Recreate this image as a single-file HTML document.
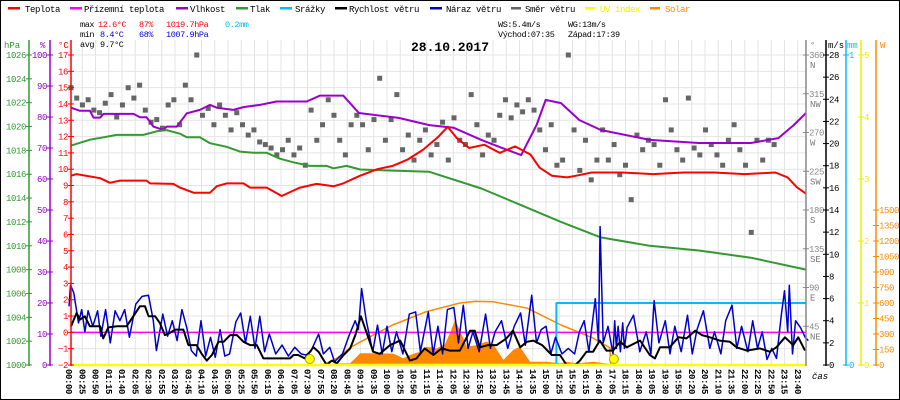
<!DOCTYPE html>
<html><head><meta charset="utf-8"><style>
html,body{margin:0;padding:0;background:#fff}
svg{display:block;font-family:"Liberation Mono",monospace;font-size:9px}
</style></head><body>
<svg id="c" width="900" height="400" viewBox="0 0 900 400" xmlns="http://www.w3.org/2000/svg">
<rect x="0.5" y="0.5" width="899" height="399" fill="#fff" stroke="#000"/>
<g id="grid"></g>
<g id="series"></g>
<g id="axes"></g>
<g font-size="9" letter-spacing="-0.4">
<g><rect x="8" y="7" width="12" height="2.5" fill="#f00"/><text x="25" y="12">Teplota</text></g>
<g><rect x="70" y="7" width="12" height="2.5" fill="#f0f"/><text x="84" y="12">Přízemní teplota</text></g>
<g><rect x="176" y="7" width="12" height="2.5" fill="#90c"/><text x="190" y="12">Vlhkost</text></g>
<g><rect x="236" y="7" width="12" height="2.5" fill="#393"/><text x="250" y="12">Tlak</text></g>
<g><rect x="280" y="7" width="12" height="2.5" fill="#0bf"/><text x="295" y="12">Srážky</text></g>
<g><rect x="335" y="7" width="12" height="2.5" fill="#000"/><text x="349" y="12">Rychlost větru</text></g>
<g><rect x="430" y="7" width="12" height="2.5" fill="#00c"/><text x="446" y="12">Náraz větru</text></g>
<g><rect x="511" y="7" width="10" height="2.5" fill="#666"/><text x="525" y="12">Směr větru</text></g>
<g><rect x="585" y="7" width="10" height="2.5" fill="#ff0"/><text x="600" y="12" fill="#ee0">UV index</text></g>
<g><rect x="650" y="7" width="10" height="2.5" fill="#f80"/><text x="665" y="12" fill="#f80">Solar</text></g>
</g>
<g font-size="8.5" letter-spacing="-0.4">
<text x="80" y="27">max</text><text x="98" y="27" fill="#f00">12.6°C</text><text x="139" y="27" fill="#f00">87%</text><text x="166" y="27" fill="#f00">1019.7hPa</text><text x="225" y="27" fill="#0bf">0.2mm</text>
<text x="80" y="37">min</text><text x="100" y="37" fill="#00c">8.4°C</text><text x="139" y="37" fill="#00c">68%</text><text x="166" y="37" fill="#00c">1007.9hPa</text>
<text x="80" y="47">avg</text><text x="100" y="47">9.7°C</text>
<text x="498" y="27">WS:5.4m/s</text><text x="568" y="27">WG:13m/s</text>
<text x="498" y="37">Východ:07:35</text><text x="568" y="37">Západ:17:39</text>
</g>
<text x="450" y="51" text-anchor="middle" font-size="13" font-weight="bold">28.10.2017</text>
<text x="812" y="379" font-size="9" font-style="italic">čas</text>
</svg>
<script>
const NS="http://www.w3.org/2000/svg";
// ---- data ----
const tempH=[0,0.18,0.95,1.27,1.6,2.47,2.58,3.34,3.56,4.0,4.54,4.76,5.08,5.63,5.85,6.39,6.88,7.15,7.48,8.02,8.57,8.89,9.44,10.0,10.5,11.0,11.5,12.0,12.3,12.6,13.0,13.5,14.0,14.5,15.0,15.3,15.7,16.2,16.5,17.0,18.0,19.0,20.0,21.0,22.0,23.0,23.4,23.7,24];
const tempC=[9.6,9.7,9.45,9.17,9.3,9.3,9.13,9.1,8.87,8.56,8.56,8.96,9.13,9.13,8.87,8.87,8.36,8.6,8.87,9.1,8.95,9.13,9.6,10.0,10.2,10.6,11.2,12.0,12.6,11.9,11.3,11.5,11.0,11.4,10.9,10.1,9.6,9.5,9.6,9.8,9.8,9.7,9.8,9.8,9.7,9.8,9.5,8.9,8.5];
const humH=[0,0.29,0.62,0.73,0.95,1.06,2.04,2.25,2.47,2.69,3.02,3.12,3.45,3.78,4.21,4.54,4.76,5.3,5.63,6.17,6.71,7.7,8.13,8.89,9.4,10.7,11.7,12.5,13.4,14.0,14.7,15.2,15.5,16.0,16.6,17.3,18.9,20.5,22.2,23.1,23.6,24];
const humP=[83,82,82,79.8,79.8,81,81,79.9,79.9,76.9,75.8,76.9,76.9,81.2,82.3,83.9,83,82.3,83.2,83.9,85,85,86.9,86.9,81.3,79.7,77.4,76.5,72.6,70.3,67.7,77.4,85.5,84.5,79,75.8,72.6,71.6,71.6,73.2,77.4,81.3];
const presH=[0,0.62,1.06,1.49,2.36,2.8,3.12,3.56,3.78,4.21,4.54,5.08,5.52,5.95,6.39,6.82,7.26,7.8,8.35,8.57,9.0,9.44,11.7,13.4,14.7,16.0,17.3,18.9,20.5,22.2,24];
const presV=[1018.4,1018.9,1019.1,1019.3,1019.3,1019.6,1019.7,1019.4,1019.1,1019.1,1018.6,1018.3,1017.9,1017.8,1017.8,1017.3,1017.0,1016.7,1016.7,1016.5,1016.7,1016.4,1016.2,1014.8,1013.4,1012.0,1010.7,1010.0,1009.6,1009.0,1008.0];
const rainH=[0,15.85,15.85,24];
const rainMM=[0,0,0.2,0.2];
const groundH=[0,24];
const groundC=[0,0];
const windM=[0,11,17.6,27,37,57,63,73,90,109,122,135,145,152,165,174,184,194,204,220,230,246,256,266,276,289,299,312,325,338,351,364,377,397,429,436,445,458,475,485,501,511,521,534,547,557,568,592,605,625,645,664,677,693,710,726,742,762,782,791,801,817,834,853,866,880,893,906,923,942,958,971,988,997,1010,1023,1036,1049,1062,1076,1089,1115,1134,1144,1154,1173,1190,1206,1223,1236,1252,1271,1291,1304,1324,1350,1369,1382,1399,1415,1425,1438];
const windV=[3.5,4.7,4.1,4.4,3.5,3.5,2.4,3.4,3.5,3.5,4.4,5.3,5.3,4.4,4.4,3.8,2.7,2.9,3.2,3.2,1.8,1.8,1.0,0.4,0.9,2.1,2.1,2.7,2.7,2.1,1.8,1.8,0.6,0.6,0.6,0.9,0.9,0.6,1.6,1.2,0,0.4,0.15,0.9,1.5,2.7,4.4,1.2,1.0,1.8,2.2,0.4,0.6,1.5,0.9,1.5,1.3,1.3,3.1,3.1,1.6,1.8,1.8,2.4,3.1,1.6,2.1,2.2,1.8,0.9,0.9,0,0,0.4,1.2,1.2,2.2,1.3,1.3,2.1,1.6,2.2,0.9,0.6,1.6,1.6,2.5,2.4,3.1,2.7,2.5,2.2,2.1,1.6,1.3,1.5,1.2,1.6,2.5,1.8,2.5,1.3];
const gustH=[0,0.05,0.15,0.3,0.4,0.5,0.6,0.75,0.9,1.0,1.15,1.3,1.45,1.6,1.75,1.9,2.1,2.3,2.5,2.65,2.75,2.95,3.1,3.25,3.4,3.55,3.7,3.85,4.0,4.15,4.3,4.45,4.6,4.75,4.9,5.05,5.25,5.4,5.55,5.7,5.85,6.0,6.15,6.3,6.5,6.7,6.9,7.1,7.3,7.45,7.6,7.85,8.0,8.2,8.35,8.6,8.8,9.0,9.1,9.2,9.35,9.55,9.7,9.85,10.0,10.15,10.3,10.5,10.7,10.9,11.05,11.3,11.45,11.6,11.75,11.9,12.1,12.25,12.4,12.55,12.7,12.9,13.1,13.25,13.4,13.6,13.8,14.0,14.2,14.35,14.55,14.7,14.85,15.0,15.15,15.3,15.5,15.7,15.9,16.05,16.2,16.35,16.55,16.65,16.7,16.8,16.95,17.15,17.3,17.45,17.6,17.8,18.0,18.15,18.3,18.5,18.7,18.9,19.05,19.15,19.3,19.5,19.65,19.8,20.0,20.2,20.35,20.5,20.7,20.9,21.05,21.25,21.4,21.6,21.75,21.9,22.1,22.25,22.4,22.55,22.7,22.85,23.0,23.15,23.25,23.35,23.4,23.5,23.6,23.75,23.9,24];
const gustV=[5.3,7.2,6.5,3.8,5.0,3.0,4.9,3.5,4.9,2.6,5.0,2.0,4.9,4.0,5.0,2.5,5.5,6.2,6.3,4.0,1.3,4.6,2.6,4.0,2.2,5.0,3.4,1.3,0.8,4.0,0.8,2.5,0.7,3.2,0.8,1.0,3.9,4.7,2.0,4.4,1.5,4.4,1.2,2.8,1.0,1.8,0.8,1.6,1.0,0.9,1.2,2.8,1.0,1.6,0.3,1.0,2.6,4.0,3.2,6.9,4.0,1.2,3.6,1.0,3.5,1.2,3.0,1.0,4.6,4.8,1.2,4.8,1.0,3.5,1.0,5.0,5.2,2.0,5.4,1.5,3.0,1.2,4.6,1.5,3.0,4.0,1.5,3.5,4.7,1.8,6.3,2.0,3.2,3.5,1.0,2.5,1.0,1.5,1.0,3.0,4.0,1.2,6.0,2.0,12.5,2.0,3.5,1.0,4.0,1.5,3.5,1.2,3.8,1.5,3.4,4.5,1.2,3.0,1.0,5.8,2.0,4.0,1.0,3.5,1.2,4.5,1.0,3.2,4.9,1.5,3.0,1.0,4.0,5.4,1.5,3.5,1.2,4.0,1.5,3.0,0.5,1.5,0.6,4.5,6.7,3.0,7.2,1.0,4.0,3.4,2.5,2.2];
const dirStepMin=11.2;
const dirDeg=[322,310,302,308,296,293,304,314,288,302,322,310,325,296,282,285,275,302,308,279,325,308,360,290,298,279,302,290,273,293,279,267,273,259,256,252,244,250,261,244,252,232,296,261,279,308,290,261,244,279,290,279,250,285,333,261,285,314,250,267,238,261,273,244,256,282,238,287,261,256,314,279,244,267,261,290,308,287,302,294,308,296,273,250,279,232,238,360,273,226,261,215,238,273,238,256,221,232,192,267,250,261,256,232,308,273,250,238,310,252,244,273,256,244,232,261,279,250,232,154,261,238,261,256];
const solarH=[7.6,8.24,8.68,9.11,9.33,9.44,10.0,10.53,10.85,11.07,11.4,11.61,11.94,12.21,12.37,12.54,12.7,12.92,13.25,13.57,13.79,14.12,14.44,14.66,14.99,15.53,15.97,16.19,16.52,17.06,17.6,17.65];
const solarW=[0,0,16,16,80,113,113,110,64,97,130,177,161,200,306,435,339,177,193,226,200,48,145,177,32,32,16,32,16,32,10,0];
const theoH=[7.6,8.2,8.7,9.1,9.45,10.5,11.6,12.7,13.2,13.8,14.9,16.0,17.05,17.6,17.62];
const theoW=[0,0,68,165,225,387,516,600,615,612,550,387,260,165,0];
const sunEvents=[7.8,17.73];
const timeLabels=["00:00","00:25","00:50","01:15","01:40","02:05","02:30","02:55","03:20","03:45","04:10","04:35","05:00","05:25","05:50","06:15","06:40","07:05","07:30","07:55","08:20","08:45","09:10","09:35","10:00","10:25","10:50","11:15","11:40","12:05","12:30","12:55","13:20","13:45","14:10","14:35","15:00","15:25","15:50","16:15","16:40","17:05","18:15","18:40","19:05","19:30","19:55","20:20","20:45","21:10","21:35","22:00","22:25","22:50","23:15","23:40"];
const hpaTicks=[1000,1002,1004,1006,1008,1010,1012,1014,1016,1018,1020,1022,1024,1026];
const humTicks=[0,10,20,30,40,50,60,70,80,90,100];
const tempTicks=[-2,-1,0,1,2,3,4,5,6,7,8,9,10,11,12,13,14,15,16,17];
const dirTicks=[45,90,135,180,225,270,315,360];
const dirNames=["NE","E","SE","S","SW","W","NW","N"];
const msTicks=[0,2,4,6,8,10,12,14,16,18,20,22,24,26,28];
const mmTicks=[0,1];
const uvTicks=[0,1,2,3,4,5];
const wTicks=[0,150,300,450,600,750,900,1050,1200,1350,1500];
// ---- scales ----
const X0=71,PXM=0.5104,TOP=55,BOT=365,H=BOT-TOP;
const xH=h=>X0+h*60*PXM, xM=m=>X0+m*PXM;
const LBL0=69,LBLS=13.25;
// label-indexed time axis (with the 17:05-18:15 gap)
const xL=h=>{const m=h*60;const idx=m<=1025?m/25:(m>=1095?42+(m-1095)/25:41+(m-1025)/70);return LBL0+idx*LBLS;};
const yT=c=>BOT-(c+2)/19*H, yP=p=>BOT-(p-1000)/26*H, yHum=v=>BOT-v/100*H;
const yMS=v=>BOT-v/28*H, yMM=v=>BOT-v/1*H, yUV=v=>BOT-v/5*H, yW=v=>BOT-v/3000*H, yDir=d=>BOT-d/360*H;
const svg=document.getElementById('c'),G=document.getElementById('grid'),S=document.getElementById('series'),A=document.getElementById('axes');
function el(tag,attrs,parent){const e=document.createElementNS(NS,tag);for(const k in attrs)e.setAttribute(k,attrs[k]);parent.appendChild(e);return e;}
tempTicks.forEach(t=>{const l=el('line',{x1:X0,x2:806,y1:yT(t),y2:yT(t),stroke:'#e4e4e4'},G);

});
timeLabels.forEach((t,i)=>{const x=LBL0+i*LBLS;const l=el('line',{x1:x,x2:x,y1:40,y2:BOT,stroke:'#e4e4e4'},G);


const tx=el('text',{x:0,y:0,transform:`translate(${x-3},369) rotate(90)`,'font-size':'9','font-weight':'bold','letter-spacing':'-0.4'},A);tx.textContent=t;

});
function poly(xs,ys,stroke,w,name){const pts=xs.map((x,i)=>x.toFixed(1)+','+ys[i].toFixed(1)).join(' ');const p=el('polyline',{points:pts,fill:'none',stroke,'stroke-width':w,'stroke-linejoin':'round'},S);

return p;}
function area(xs,ys,fill,name){const pts=xs.map((x,i)=>x.toFixed(1)+','+ys[i].toFixed(1)).join(' ')+` ${xs[xs.length-1]},${BOT} ${xs[0]},${BOT}`;const p=el('polygon',{points:pts,fill},S);

}
area(solarH.map(xH),solarW.map(yW),'#f80','solar-area');
poly(theoH.map(xH),theoW.map(yW),'#f80',1.5,'solar-theoretical-line');
dirDeg.forEach((d,i)=>{const r=el('rect',{x:xM(i*dirStepMin)-2.5,y:yDir(d)-2.5,width:5,height:5,fill:'#666'},S);

});
poly(humH.map(xH),humP.map(yHum),'#90c',2,'humidity-line');
poly(presH.map(xH),presV.map(yP),'#393',2,'pressure-line');
poly(tempH.map(xH),tempC.map(yT),'#f00',2,'temperature-line');
poly(groundH.map(xH),groundC.map(yT),'#f0f',1.5,'ground-temperature-line');
poly(rainH.map(xH),rainMM.map(yMM),'#0bf',2,'rain-line');
poly(gustH.map(xL),gustV.map(yMS),'#00c',1.5,'wind-gust-line');
poly(windM.map(xM),windV.map(yMS),'#000',2,'wind-speed-line');
const uv=el('line',{x1:X0,x2:806,y1:BOT,y2:BOT,stroke:'#ff0','stroke-width':2.5},S);


sunEvents.forEach(h=>{const c=el('circle',{cx:xH(h),cy:BOT-6,r:4.5,fill:'#ff0',stroke:'#aa0'},S);

});
function axis(x,color,ticks,yf,lx,anchor,fmt,name,title,tx){const l=el('line',{x1:x,x2:x,y1:40,y2:BOT+1,stroke:color,'stroke-width':1.5},A);


const t=el('text',{x:tx,y:48,fill:color,'font-size':'9'},A);t.textContent=title;


ticks.forEach(v=>{const y=yf(v);el('line',{x1:x-3,x2:x+3,y1:y,y2:y,stroke:color},A);const tt=el('text',{x:lx,y:y+3,fill:color,'text-anchor':anchor,'font-size':'9','letter-spacing':'-0.4'},A);tt.textContent=fmt(v);

});}
axis(29,'#393',hpaTicks,yP,26,'end',v=>v,'hpa-axis','hPa',4);
axis(50,'#90c',humTicks,yHum,47,'end',v=>v,'humidity-axis','%',40);
axis(71,'#f00',tempTicks,yT,68,'end',v=>v<0?'−'+(-v):v,'temperature-axis','°C',58);
axis(806,'#888',dirTicks,yDir,809,'start',v=>v,'direction-axis','°',810);
dirTicks.forEach((d,i)=>{const t=el('text',{x:810,y:yDir(d)+13,fill:'#777','font-size':'9'},A);t.textContent=dirNames[i];

});
axis(826,'#000',msTicks,yMS,829,'start',v=>v,'wind-axis','m/s',828);
axis(846,'#0bf',mmTicks,yMM,849,'start',v=>v,'rain-axis','mm',847);
axis(861,'#ee0',uvTicks,yUV,864,'start',v=>v,'uv-axis','',864);
axis(876,'#f80',wTicks,yW,879,'start',v=>v,'solar-axis','W',880);
</script>
</body></html>
